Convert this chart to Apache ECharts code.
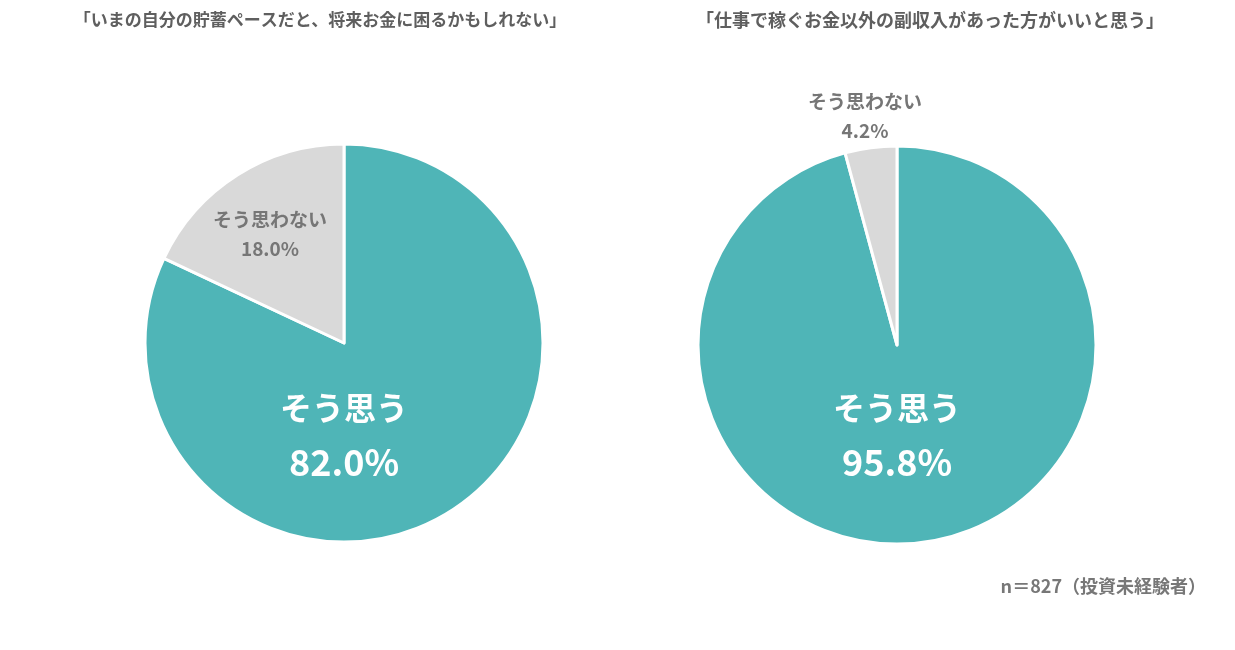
<!DOCTYPE html>
<html><head><meta charset="utf-8">
<script src="https://cdn.jsdelivr.net/npm/echarts@6/dist/echarts.min.js"></script>
<style>html,body{margin:0;padding:0;background:#fff}#c{width:1235px;height:650px}</style>
</head><body><div id="c"></div>
<script>
const categories = ['そう思う', 'そう思わない'];
const leftValues = [82.0, 18.0];
const rightValues = [95.8, 4.2];
const leftTitle = '「いまの自分の貯蓄ペースだと、将来お金に困るかもしれない」';
const rightTitle = '「仕事で稼ぐお金以外の副収入があった方がいいと思う」';
const note = 'n＝827（投資未経験者）';

const colors = ['#4fb5b7', '#d9d9d9'];
const FONT = '"Noto Sans CJK JP", "Noto Sans", sans-serif';

function fmt(p) {
  const big = p.dataIndex === 0;
  return (big ? '{a|' : '{s|') + p.name + '}\n' + (big ? '{n|' : '{m|') + p.value.toFixed(1) + '%}';
}
const rich = {
  a: {fontFamily: FONT, fontWeight: 'bold', fontSize: 32, color: '#fff', lineHeight: 54},
  n: {fontFamily: FONT, fontWeight: 'bold', fontSize: 36, color: '#fff', lineHeight: 54},
  s: {fontFamily: FONT, fontWeight: 'bold', fontSize: 19, color: '#767676', lineHeight: 29},
  m: {fontFamily: FONT, fontWeight: 'bold', fontSize: 19, color: '#767676', lineHeight: 29}
};
function makeData(vals, offsets) {
  return categories.map((name, i) => ({
    name, value: vals[i],
    itemStyle: {color: colors[i]},
    label: {show: true, position: 'center', offset: offsets[i], formatter: fmt, rich}
  }));
}
function pie(center, vals, offsets) {
  return {
    type: 'pie', center, radius: 199, startAngle: 90, clockwise: true,
    silent: true, animation: false,
    itemStyle: {borderColor: '#fff', borderWidth: 3},
    labelLine: {show: false},
    emphasis: {disabled: true},
    data: makeData(vals, offsets)
  };
}
const chart = echarts.init(document.getElementById('c'));
chart.setOption({
  backgroundColor: '#fff',
  title: [
    {text: leftTitle, left: 315, top: 6, textAlign: 'center',
     textStyle: {fontFamily: FONT, fontSize: 17, fontWeight: 'bold', color: '#5f5f5f'}},
    {text: rightTitle, left: 925, top: 6, textAlign: 'center',
     textStyle: {fontFamily: FONT, fontSize: 18, fontWeight: 'bold', color: '#5f5f5f'}},
    {text: note, right: 24, top: 572,
     textStyle: {fontFamily: FONT, fontSize: 18, fontWeight: 'bold', color: '#777'}}
  ],
  series: [
    pie([344, 343], leftValues, [[0, 92], [-74, -109]]),
    pie([897, 345], rightValues, [[0, 90], [-32, -229]])
  ]
});
</script></body></html>
